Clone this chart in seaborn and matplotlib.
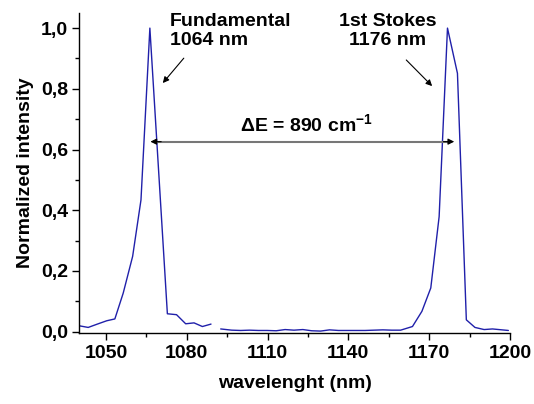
import pandas as pd
import seaborn as sns
import matplotlib
matplotlib.use('Agg')
import matplotlib.pyplot as plt
from matplotlib.ticker import MultipleLocator, FixedLocator, FixedFormatter

# spectrum, left part (around the 1064 nm pump line)
wl_left = [1039.7, 1043.4, 1046.8, 1050.3, 1053.3, 1056.4, 1059.9, 1063.0,
           1066.3, 1072.8, 1076.2, 1079.6, 1082.7, 1085.8, 1089.0]
int_left = [0.020, 0.014, 0.025, 0.036, 0.042, 0.127, 0.248, 0.434,
            1.000, 0.059, 0.056, 0.026, 0.029, 0.017, 0.025]

# spectrum, right part (1st Stokes line)
wl_right = [1092.6, 1096.7, 1100.0, 1103.3, 1106.6, 1109.9, 1113.2, 1116.5,
            1119.8, 1123.1, 1126.4, 1129.7, 1133.0, 1136.3, 1139.6, 1142.9,
            1146.2, 1149.5, 1152.8, 1156.1, 1159.4, 1163.8, 1167.3, 1170.6,
            1173.7, 1176.8, 1180.5, 1183.8, 1187.0, 1190.4, 1193.5, 1199.4]
int_right = [0.009, 0.005, 0.004, 0.005, 0.004, 0.004, 0.003, 0.007,
             0.005, 0.007, 0.003, 0.002, 0.006, 0.004, 0.004, 0.004,
             0.004, 0.005, 0.006, 0.005, 0.005, 0.017, 0.067, 0.144,
             0.379, 1.000, 0.851, 0.039, 0.014, 0.007, 0.009, 0.004]

yticks = [0.0, 0.2, 0.4, 0.6, 0.8, 1.0]
ytick_labels = ['0,0', '0,2', '0,4', '0,6', '0,8', '1,0']
xticks = [1050, 1080, 1110, 1140, 1170, 1200]

left = pd.DataFrame({'wl': wl_left, 'I': int_left})
right = pd.DataFrame({'wl': wl_right, 'I': int_right})

sns.set_theme(style='ticks')
plt.rcParams['font.family'] = ['Liberation Sans', 'DejaVu Sans']
plt.rcParams['font.weight'] = 'bold'
plt.rcParams['mathtext.fontset'] = 'custom'
plt.rcParams['mathtext.rm'] = 'Liberation Sans:bold'
plt.rcParams['mathtext.bf'] = 'Liberation Sans:bold'
plt.rcParams['mathtext.default'] = 'bf'

fig = plt.figure(figsize=(5.34, 4.04), dpi=100)
ax = fig.add_axes([0.148, 0.176, 0.807, 0.792])

line_col = '#2020aa'
sns.lineplot(data=left, x='wl', y='I', ax=ax, color=line_col, lw=1)
sns.lineplot(data=right, x='wl', y='I', ax=ax, color=line_col, lw=1)

ax.set_xlim(1040, 1200)
ax.set_ylim(-0.004, 1.05)
ax.xaxis.set_major_locator(FixedLocator(xticks))
ax.xaxis.set_minor_locator(MultipleLocator(15))
ax.yaxis.set_major_locator(FixedLocator(yticks))
ax.yaxis.set_major_formatter(FixedFormatter(ytick_labels))
ax.yaxis.set_minor_locator(MultipleLocator(0.1))
ax.tick_params(which='both', direction='out', color='black', width=1,
               labelsize=14, labelcolor='black')
ax.tick_params(axis='x', pad=4)
ax.tick_params(axis='y', pad=3)
ax.tick_params(which='major', length=5)
ax.tick_params(which='minor', length=3)
for lab in ax.get_xticklabels() + ax.get_yticklabels():
    lab.set_fontweight('bold')
sns.despine(ax=ax)
for s in ['left', 'bottom']:
    ax.spines[s].set_color('black')
    ax.spines[s].set_linewidth(1)

ax.set_xlabel('wavelenght (nm)', fontsize=14, fontweight='bold', labelpad=9,
              color='black')
ax.set_ylabel('Normalized intensity', fontsize=14, fontweight='bold',
              labelpad=5, color='black')

# annotations
ax.text(1073.7, 0.99, 'Fundamental\n1064 nm', fontsize=14, fontweight='bold',
        ha='left', va='center', linespacing=1.15, color='black')
ax.annotate('', xy=(1071.1, 0.819), xytext=(1078.9, 0.901),
            arrowprops=dict(arrowstyle='-|>', color='black', lw=0.8,
                            mutation_scale=9, shrinkA=0, shrinkB=0))
ax.text(1154.5, 0.99, '1st Stokes\n1176 nm', fontsize=14, fontweight='bold',
        ha='center', va='center', linespacing=1.15, color='black')
ax.annotate('', xy=(1171.1, 0.809), xytext=(1161.5, 0.895),
            arrowprops=dict(arrowstyle='-|>', color='black', lw=0.8,
                            mutation_scale=9, shrinkA=0, shrinkB=0))

ax.plot([1068, 1177.5], [0.626, 0.626], color='#777777', lw=1.5)
ax.annotate('', xy=(1066.5, 0.626), xytext=(1070.5, 0.626),
            arrowprops=dict(arrowstyle='-|>', color='black', lw=0.8,
                            mutation_scale=9, shrinkA=0, shrinkB=0))
ax.annotate('', xy=(1179.3, 0.626), xytext=(1175.3, 0.626),
            arrowprops=dict(arrowstyle='-|>', color='black', lw=0.8,
                            mutation_scale=9, shrinkA=0, shrinkB=0))
ax.text(1124.5, 0.683, '\u0394E = 890 cm$^{-1}$', fontsize=14,
        fontweight='bold', ha='center', va='center', color='black')

fig.savefig('out.png', dpi=100)
